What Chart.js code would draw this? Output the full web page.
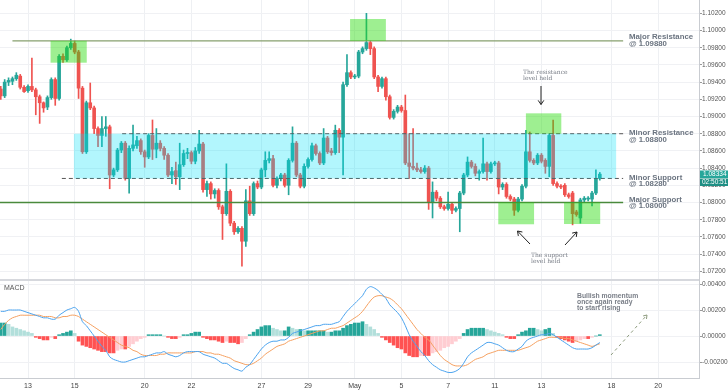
<!DOCTYPE html>
<html>
<head>
<meta charset="utf-8">
<script src="https://cdn.jsdelivr.net/npm/chart.js@4.4.1/dist/chart.umd.min.js"></script>
<style>
html, body { margin: 0; padding: 0; background: #fff; }
#wrap { width: 728px; height: 391px; position: relative; }
</style>
</head>
<body>
<div id="wrap"><canvas id="myChart" width="728" height="391"></canvas></div>
<script>
// 4h candles, index 0 = Apr 13 00:00, 6 candles per trading day
const firstIndex = -7;

const opens = [
  1.0932,1.0924,1.0940,1.0941,1.0944,1.0947,1.0934,1.0930,1.0935,1.0931,
  1.0923,1.0916,1.0911,1.0922,1.0943,1.0921,1.0970,1.0966,1.0980,1.0985,
  1.0975,1.0933,1.0859,1.0916,1.0910,1.0886,1.0878,1.0886,1.0888,1.0832,
  1.0838,1.0861,1.0869,1.0828,1.0863,1.0866,1.0872,1.0859,1.0853,1.0878,
  1.0862,1.0869,1.0863,1.0855,1.0832,1.0837,1.0830,1.0844,1.0857,1.0858,
  1.0848,1.0860,1.0868,1.0815,1.0822,1.0810,1.0814,1.0795,1.0787,1.0813,
  1.0776,1.0766,1.0770,1.0755,1.0802,1.0787,1.0822,1.0818,1.0838,1.0849,
  1.0851,1.0820,1.0828,1.0832,1.0820,1.0849,1.0869,1.0832,1.0819,1.0842,
  1.0850,1.0866,1.0857,1.0846,1.0875,1.0860,1.0858,1.0884,1.0876,1.0937,
  1.0951,1.0946,1.0947,1.0975,1.0979,1.0986,1.0979,1.0946,1.0935,1.0944,
  1.0923,1.0899,1.0906,1.0911,1.0907,1.0846,1.0842,1.0840,1.0838,1.0836,
  1.0840,1.0801,1.0812,1.0805,1.0795,1.0793,1.0798,1.0791,1.0793,1.0811,
  1.0832,1.0847,1.0842,1.0834,1.0836,1.0845,1.0836,1.0845,1.0846,1.0818,
  1.0821,1.0807,1.0804,1.0791,1.0804,1.0819,1.0859,1.0849,1.0846,1.0855,
  1.0849,1.0842,1.0878,1.0822,1.0819,1.0820,1.0809,1.0811,1.0789,1.0782,
  1.0803,1.0804,1.0804,1.0811,1.0828
];
const highs = [
  1.0935,1.0943,1.0945,1.0946,1.0951,1.0949,1.0936,1.0937,1.0968,1.0933,
  1.0925,1.0917,1.0924,1.0945,1.0945,1.0972,1.0973,1.0982,1.0990,1.0988,
  1.0977,1.0935,1.0918,1.0939,1.0912,1.0888,1.0900,1.0900,1.0890,1.0840,
  1.0863,1.0871,1.0871,1.0866,1.0890,1.0877,1.0874,1.0861,1.0880,1.0896,
  1.0886,1.0872,1.0865,1.0857,1.0841,1.0847,1.0869,1.0861,1.0863,1.0860,
  1.0864,1.0884,1.0870,1.0825,1.0824,1.0816,1.0816,1.0797,1.0845,1.0815,
  1.0778,1.0772,1.0772,1.0815,1.0819,1.0824,1.0825,1.0840,1.0859,1.0859,
  1.0855,1.0830,1.0834,1.0834,1.0851,1.0888,1.0871,1.0834,1.0845,1.0852,
  1.0869,1.0868,1.0859,1.0886,1.0877,1.0863,1.0890,1.0886,1.0940,1.0972,
  1.0953,1.0949,1.0977,1.0981,1.1020,1.0988,1.0981,1.0948,1.0946,1.0946,
  1.0925,1.0908,1.0913,1.0913,1.0925,1.0880,1.0886,1.0846,1.0841,1.0843,
  1.0842,1.0824,1.0814,1.0807,1.0797,1.0812,1.0800,1.0795,1.0813,1.0834,
  1.0853,1.0849,1.0845,1.0838,1.0875,1.0847,1.0847,1.0848,1.0848,1.0823,
  1.0823,1.0809,1.0806,1.0806,1.0821,1.0884,1.0882,1.0851,1.0857,1.0857,
  1.0851,1.0880,1.0896,1.0824,1.0821,1.0822,1.0811,1.0813,1.0791,1.0805,
  1.0807,1.0807,1.0813,1.0838,1.0835
];
const lows = [
  1.0920,1.0922,1.0936,1.0937,1.0942,1.0932,1.0928,1.0928,1.0929,1.0902,
  1.0892,1.0905,1.0908,1.0920,1.0913,1.0919,1.0963,1.0964,1.0978,1.0973,
  1.0921,1.0857,1.0857,1.0908,1.0880,1.0865,1.0865,1.0877,1.0816,1.0830,
  1.0836,1.0858,1.0826,1.0811,1.0860,1.0863,1.0856,1.0841,1.0851,1.0850,
  1.0852,1.0860,1.0850,1.0830,1.0822,1.0821,1.0815,1.0842,1.0851,1.0845,
  1.0845,1.0857,1.0812,1.0807,1.0804,1.0805,1.0792,1.0757,1.0785,1.0773,
  1.0763,1.0764,1.0726,1.0749,1.0785,1.0785,1.0816,1.0816,1.0830,1.0846,
  1.0818,1.0817,1.0825,1.0818,1.0809,1.0847,1.0830,1.0817,1.0817,1.0840,
  1.0848,1.0855,1.0844,1.0844,1.0857,1.0855,1.0856,1.0858,1.0832,1.0935,
  1.0944,1.0944,1.0945,1.0973,1.0977,1.0972,1.0944,1.0929,1.0933,1.0919,
  1.0897,1.0897,1.0904,1.0905,1.0844,1.0828,1.0838,1.0836,1.0834,1.0834,
  1.0792,1.0782,1.0802,1.0793,1.0791,1.0791,1.0787,1.0789,1.0766,1.0809,
  1.0830,1.0840,1.0831,1.0826,1.0834,1.0826,1.0834,1.0843,1.0810,1.0815,
  1.0805,1.0802,1.0785,1.0789,1.0802,1.0817,1.0847,1.0844,1.0844,1.0846,
  1.0834,1.0830,1.0820,1.0817,1.0816,1.0807,1.0805,1.0774,1.0784,1.0776,
  1.0801,1.0802,1.0796,1.0809,1.0826
];
const closes = [
  1.0924,1.0940,1.0942,1.0944,1.0948,1.0934,1.0929,1.0935,1.0931,1.0923,
  1.0916,1.0910,1.0922,1.0943,1.0921,1.0970,1.0966,1.0980,1.0985,1.0975,
  1.0933,1.0859,1.0916,1.0910,1.0886,1.0878,1.0886,1.0888,1.0832,1.0838,
  1.0861,1.0869,1.0828,1.0863,1.0867,1.0872,1.0859,1.0853,1.0878,1.0862,
  1.0869,1.0863,1.0855,1.0832,1.0836,1.0830,1.0844,1.0857,1.0858,1.0848,
  1.0860,1.0868,1.0815,1.0822,1.0810,1.0814,1.0795,1.0787,1.0813,1.0776,
  1.0766,1.0770,1.0755,1.0802,1.0787,1.0822,1.0818,1.0838,1.0849,1.0851,
  1.0820,1.0828,1.0832,1.0820,1.0849,1.0869,1.0832,1.0819,1.0842,1.0850,
  1.0866,1.0857,1.0846,1.0875,1.0859,1.0858,1.0884,1.0876,1.0937,1.0951,
  1.0946,1.0947,1.0975,1.0979,1.0986,1.0979,1.0946,1.0935,1.0944,1.0923,
  1.0899,1.0906,1.0911,1.0907,1.0846,1.0842,1.0840,1.0838,1.0836,1.0840,
  1.0801,1.0812,1.0805,1.0795,1.0793,1.0798,1.0791,1.0793,1.0811,1.0832,
  1.0847,1.0842,1.0834,1.0836,1.0845,1.0836,1.0845,1.0846,1.0818,1.0821,
  1.0807,1.0804,1.0791,1.0804,1.0819,1.0859,1.0849,1.0846,1.0855,1.0848,
  1.0842,1.0878,1.0822,1.0819,1.0818,1.0809,1.0807,1.0787,1.0786,1.0803,
  1.0805,1.0805,1.0811,1.0828,1.0833
];

const macdLine = [
  .0019,.0019,.0020,.0020,.0020,.0020,.0019,.0018,.0017,.0016,
  .0015,.0014,.0014,.0013,.0013,.0016,.0018,.0020,.0021,.0022,
  .0019,.0011,.0008,.0004,.0000,-.0004,-.0008,-.0011,-.0016,-.0018,
  -.0019,-.0020,-.0020,-.0019,-.0018,-.0017,-.0016,-.0016,-.0015,-.0014,
  -.0013,-.0013,-.0012,-.0014,-.0015,-.0016,-.0015,-.0013,-.0012,-.0012,
  -.0012,-.0012,-.0014,-.0015,-.0016,-.0017,-.0019,-.0021,-.0021,-.0023,
  -.0025,-.0026,-.0027,-.0024,-.0022,-.0018,-.0014,-.0010,-.0007,-.0005,
  -.0004,-.0004,-.0003,-.0003,-.0001,.0002,.0003,.0004,.0005,.0006,
  .0007,.0008,.0008,.0009,.0009,.0009,.0010,.0011,.0015,.0019,
  .0022,.0025,.0028,.0031,.0036,.0038,.0037,.0035,.0032,.0029,
  .0024,.0021,.0018,.0014,.0008,.0001,-.0004,-.0008,-.0012,-.0015,
  -.0019,-.0022,-.0024,-.0026,-.0027,-.0028,-.0028,-.0027,-.0025,-.0021,
  -.0016,-.0013,-.0011,-.0009,-.0007,-.0005,-.0005,-.0006,-.0007,-.0009,
  -.0011,-.0012,-.0012,-.0010,-.0008,-.0004,-.0002,-.0001,.0000,.0001,
  .0001,.0002,.0001,-.0001,-.0003,-.0005,-.0007,-.0009,-.0010,-.0010,
  -.0010,-.0010,-.0009,-.0007,-.0005
];
const signalLine = [
  .0005,.0009,.0012,.0014,.0015,.0016,.0016,.0016,.0016,.0016,
  .0016,.0015,.0015,.0015,.0014,.0014,.0015,.0015,.0016,.0016,
  .0015,.0013,.0011,.0009,.0007,.0005,.0003,.0001,-.0001,-.0003,
  -.0005,-.0007,-.0008,-.0009,-.0011,-.0012,-.0014,-.0015,-.0015,-.0015,
  -.0015,-.0014,-.0014,-.0013,-.0013,-.0013,-.0013,-.0013,-.0013,-.0013,
  -.0012,-.0012,-.0012,-.0013,-.0013,-.0014,-.0014,-.0015,-.0016,-.0017,
  -.0019,-.0020,-.0021,-.0022,-.0022,-.0021,-.0019,-.0017,-.0014,-.0012,
  -.0010,-.0008,-.0007,-.0006,-.0004,-.0003,-.0002,-.0001,.0000,.0001,
  .0002,.0003,.0004,.0004,.0005,.0006,.0006,.0007,.0008,.0010,
  .0012,.0014,.0016,.0019,.0023,.0027,.0030,.0031,.0031,.0030,
  .0029,.0027,.0024,.0021,.0017,.0013,.0009,.0005,.0002,-.0001,
  -.0003,-.0007,-.0011,-.0015,-.0018,-.0020,-.0022,-.0023,-.0023,-.0023,
  -.0022,-.0020,-.0018,-.0017,-.0016,-.0014,-.0013,-.0012,-.0011,-.0011,
  -.0011,-.0011,-.0011,-.0011,-.0010,-.0009,-.0008,-.0006,-.0004,-.0003,
  -.0002,-.0001,-.0001,-.0001,-.0001,-.0002,-.0002,-.0003,-.0004,-.0005,
  -.0006,-.0007,-.0008,-.0007,-.0006
];
const histogram = [
  .0010,.0010,.0009,.0007,.0006,.0005,.0004,.0003,.0002,-.0001,
  -.0002,-.0003,-.0003,-.0001,-.0002,.0001,.0002,.0003,.0004,.0002,
  -.0004,-.0007,-.0008,-.0009,-.0010,-.0011,-.0012,-.0012,-.0013,-.0013,
  -.0011,-.0010,-.0010,-.0008,-.0006,-.0004,-.0002,-.0001,.0001,.0001,
  .0001,.0001,.0000,-.0001,-.0002,-.0002,-.0001,.0001,.0001,.0002,
  .0003,.0003,-.0001,-.0002,-.0003,-.0003,-.0004,-.0005,-.0004,-.0005,
  -.0005,-.0006,-.0005,-.0002,.0001,.0003,.0005,.0007,.0008,.0008,
  .0006,.0005,.0004,.0004,.0007,.0006,.0005,.0005,.0004,.0004,
  .0004,.0004,.0004,.0004,.0003,.0003,.0004,.0004,.0006,.0008,
  .0009,.0010,.0010,.0011,.0009,.0007,.0005,.0002,-.0001,-.0003,
  -.0005,-.0007,-.0009,-.0010,-.0013,-.0015,-.0016,-.0016,-.0015,-.0015,
  -.0015,-.0013,-.0012,-.0011,-.0009,-.0008,-.0006,-.0004,-.0002,.0002,
  .0005,.0006,.0006,.0006,.0006,.0005,.0004,.0003,.0002,.0001,
  -.0001,-.0002,-.0002,.0001,.0003,.0004,.0006,.0006,.0005,.0004,
  .0005,.0006,.0002,-.0001,-.0002,-.0003,-.0004,-.0005,-.0004,-.0003,
  -.0002,-.0002,-.0001,.0000,.0001
];

const dayTicks = [0, 12, 30, 42, 60, 72, 84, 96, 108, 120, 132, 150, 162];
const dayLabels = ['13', '15', '20', '22', '27', '29', 'May', '5', '7', '11', '13', '18', '20'];
const priceTicks = [1.072, 1.074, 1.076, 1.078, 1.080, 1.082, 1.084, 1.086, 1.088, 1.090, 1.092, 1.094, 1.096, 1.098, 1.100, 1.102];
const macdTicks = [-0.002, 0, 0.002, 0.004];

const majorResistance = 1.0988;
const minorResistance = 1.0880;
const minorSupport = 1.0828;
const majorSupport = 1.0800;
const lastPrice = '1.08334';
const countdown = '02:50:51';

const GREEN = '#26a69a';
const RED = '#ef5350';

const idx = i => firstIndex + i;
const candleColors = opens.map((o, i) => closes[i] >= o ? GREEN : RED);
const histColors = histogram.map((v, i) => {
    const prev = i > 0 ? histogram[i - 1] : v;
    if (v >= 0) return v >= prev ? GREEN : '#b2dfdb';
    return v <= prev ? '#ff5252' : '#ffcdd2';
});

function levelLine(price, from, to, color, dash) {
    return {
        type: 'line',
        yAxisID: 'y',
        data: [{ x: from, y: price }, { x: to, y: price }],
        borderColor: color,
        borderWidth: dash ? 1 : 1.4,
        borderDash: dash ? [4, 3] : [],
        pointRadius: 0,
        order: 3
    };
}

function arrow(ctx, x1, y1, x2, y2, head, dash) {
    ctx.save();
    ctx.setLineDash(dash || []);
    ctx.beginPath();
    ctx.moveTo(x1, y1);
    ctx.lineTo(x2, y2);
    ctx.stroke();
    ctx.setLineDash([]);
    const a = Math.atan2(y2 - y1, x2 - x1);
    ctx.beginPath();
    ctx.moveTo(x2 - head * Math.cos(a - 0.6), y2 - head * Math.sin(a - 0.6));
    ctx.lineTo(x2, y2);
    ctx.lineTo(x2 - head * Math.cos(a + 0.6), y2 - head * Math.sin(a + 0.6));
    ctx.stroke();
    ctx.restore();
}

// no extra room around the plot: the panes go right to the edges
function noPad(axis) {
    axis.paddingTop = 0;
    axis.paddingBottom = 0;
    axis.paddingLeft = 0;
    axis.paddingRight = 0;
}

const overlay = {
    id: 'overlay',
    afterDatasetsDraw(chart) {
        const { ctx, scales: { x, y, y2 } } = chart;
        const px = u => x.getPixelForValue(u);
        const py = p => y.getPixelForValue(p);
        const box = (u0, u1, p0, p1, color) => {
            ctx.fillStyle = color;
            ctx.fillRect(px(u0), py(p1), px(u1) - px(u0), py(p0) - py(p1));
        };
        ctx.save();
        // zones
        box(11.8, 151.2, minorSupport, minorResistance, 'rgba(0,225,250,0.30)');
        const g = 'rgba(40,220,10,0.45)';
        box(5.8, 15.1, 1.09626, majorResistance, g);
        box(82.8, 92, majorResistance, 1.10134, g);
        box(128, 137.1, minorResistance, 1.09037, g);
        box(120.9, 130.1, 1.07747, majorSupport, g);
        box(137.8, 147.1, 1.0775, majorSupport, g);

        // pane separator
        ctx.strokeStyle = '#d6d8dd';
        ctx.lineWidth = 2;
        ctx.beginPath();
        ctx.moveTo(0, y2.top);
        ctx.lineTo(x.right, y2.top);
        ctx.stroke();

        // level labels
        ctx.fillStyle = '#6b7480';
        ctx.font = 'bold 7.8px "Liberation Sans", Arial, sans-serif';
        ctx.textBaseline = 'middle';
        const lx = px(154.5);
        ctx.fillText('Major Resistance', lx, 37.3);
        ctx.fillText('@ 1.09880', lx, 44.3);
        ctx.fillText('Minor Resistance', lx, 132.6);
        ctx.fillText('@ 1.08800', lx, 139.4);
        ctx.fillText('Minor Support', lx, 177.6);
        ctx.fillText('@ 1.08280', lx, 184.2);
        ctx.fillText('Major Support', lx, 199.4);
        ctx.fillText('@ 1.08000', lx, 206.2);

        // notes
        ctx.fillStyle = '#7a7f88';
        ctx.font = '6px "DejaVu Serif", serif';
        ctx.fillText('The resistance', 523, 72.4);
        ctx.fillText('level held', 523, 78.4);
        ctx.fillText('The support', 531, 255.3);
        ctx.fillText('level held', 531, 261.2);
        ctx.font = 'bold 6.8px "Liberation Sans", Arial, sans-serif';
        ctx.fillText('Bullish momentum', 577, 296);
        ctx.fillText('once again ready', 577, 302);
        ctx.fillText('to start rising', 577, 307.8);

        ctx.strokeStyle = '#222';
        ctx.lineWidth = 1;
        arrow(ctx, 541, 86, 541, 104.5, 5);
        arrow(ctx, 530, 244, 517.5, 231, 5);
        arrow(ctx, 565, 245, 577, 232, 5);
        ctx.strokeStyle = '#8c9a7c';
        arrow(ctx, 611, 355, 647, 315, 4, [3, 3]);

        // pane title
        ctx.fillStyle = '#555';
        ctx.font = '7px "Liberation Sans", Arial, sans-serif';
        ctx.fillText('MACD', 4, 288.5);

        // last price tags
        ctx.fillStyle = '#26a69a';
        ctx.fillRect(700, 170.5, 28, 7.5);
        ctx.fillStyle = '#1f8f84';
        ctx.fillRect(700, 178.5, 28, 7.5);
        ctx.fillStyle = '#fff';
        ctx.font = '6.5px "Liberation Sans", Arial, sans-serif';
        ctx.fillText(lastPrice, 703, 174.4);
        ctx.fillText(countdown, 702, 182.3);
        ctx.restore();
    }
};

const ctx = document.getElementById('myChart').getContext('2d');
const myChart = new Chart(ctx, {
    type: 'bar',
    data: {
        datasets: [
            {
                type: 'line', label: 'MACD', yAxisID: 'y2',
                data: macdLine.map((v, i) => ({ x: idx(i), y: v })),
                borderColor: '#4ba3ee', borderWidth: 1, pointRadius: 0, tension: 0.3, order: 1
            },
            {
                type: 'line', label: 'Signal', yAxisID: 'y2',
                data: signalLine.map((v, i) => ({ x: idx(i), y: v })),
                borderColor: '#f5a060', borderWidth: 1, pointRadius: 0, tension: 0.3, order: 1
            },
            {
                label: 'Histogram', yAxisID: 'y2',
                data: histogram.map((v, i) => ({ x: idx(i), y: v })),
                backgroundColor: histColors, barThickness: 3, order: 2
            },
            levelLine(majorResistance, -4.0, 153, '#87a06f', false),
            levelLine(majorSupport, -7.2, 153, '#4a8a3c', false),
            levelLine(minorResistance, 24.2, 153, '#555', true),
            levelLine(minorSupport, 8.7, 153, '#555', true),
            {
                label: 'Body', yAxisID: 'y',
                data: opens.map((o, i) => ({ x: idx(i), y: [o, closes[i]] })),
                backgroundColor: candleColors, barThickness: 3, minBarLength: 1, order: 4
            },
            {
                label: 'Wick', yAxisID: 'y',
                data: lows.map((l, i) => ({ x: idx(i), y: [l, highs[i]] })),
                backgroundColor: candleColors, barThickness: 1, order: 5
            }
        ]
    },
    options: {
        responsive: false,
        animation: false,
        layout: { padding: 0 },
        datasets: { bar: { grouped: false } },
        plugins: { legend: { display: false }, tooltip: { enabled: false } },
        scales: {
            x: {
                type: 'linear',
                min: -7.2,
                max: 172.5,
                offset: false,
                grid: { color: '#eef0f3', drawTicks: false, offset: false },
                border: { display: true, color: '#c9ccd1' },
                afterBuildTicks: axis => { axis.ticks = dayTicks.map(v => ({ value: v })); },
                afterFit: axis => { axis.height = 13; noPad(axis); },
                ticks: {
                    padding: 4,
                    maxRotation: 0,
                    autoSkip: false,
                    color: '#444',
                    font: { size: 7, family: 'Liberation Sans' },
                    callback: v => dayLabels[dayTicks.indexOf(v)]
                }
            },
            y: {
                position: 'right',
                stack: 'pane',
                stackWeight: 280,
                min: 1.07099,
                max: 1.10355,
                grid: { color: '#f0f1f4', tickLength: 3, tickColor: '#999' },
                border: { display: true, color: '#c9ccd1' },
                afterBuildTicks: axis => { axis.ticks = priceTicks.map(v => ({ value: v })); },
                afterFit: axis => { axis.width = 29; noPad(axis); },
                ticks: {
                    padding: 0,
                    autoSkip: false,
                    color: '#555',
                    font: { size: 6.5, family: 'Liberation Sans' },
                    callback: v => v.toFixed(5)
                }
            },
            y2: {
                position: 'right',
                stack: 'pane',
                stackWeight: 98,
                min: -0.00323,
                max: 0.00431,
                grid: { color: '#f0f1f4', tickLength: 3, tickColor: '#999' },
                border: { display: true, color: '#c9ccd1' },
                afterBuildTicks: axis => { axis.ticks = macdTicks.map(v => ({ value: v })); },
                afterFit: axis => { axis.width = 29; noPad(axis); },
                ticks: {
                    padding: 0,
                    autoSkip: false,
                    color: '#555',
                    font: { size: 6.5, family: 'Liberation Sans' },
                    callback: v => v.toFixed(5)
                }
            }
        }
    },
    plugins: [overlay]
});
</script>
</body>
</html>
